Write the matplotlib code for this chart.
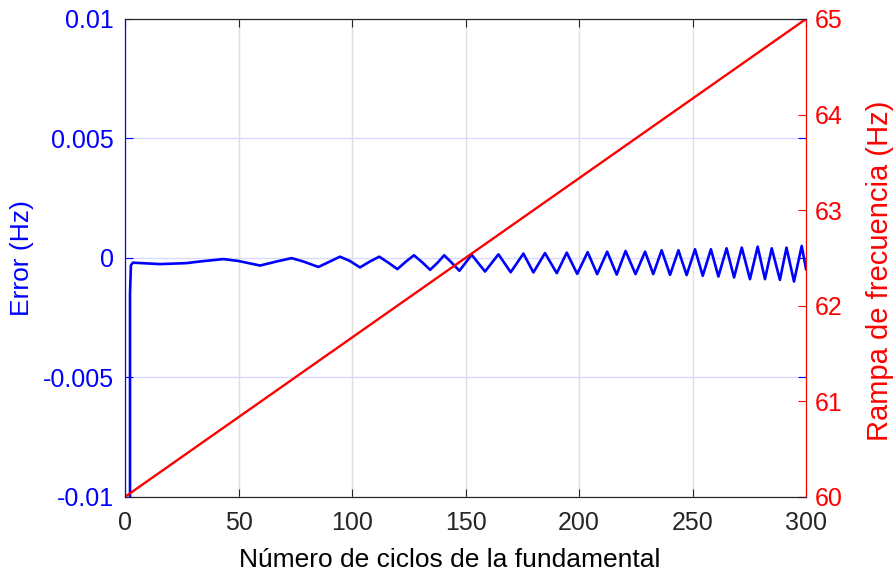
import matplotlib.pyplot as plt

plt.rcParams["font.family"] = ["Liberation Sans", "DejaVu Sans"]

# rampa de frecuencia aplicada (Hz)
ciclos_rampa = [0, 300]
rampa = [60, 65]

# error de estimacion de frecuencia (Hz), leido ciclo a ciclo
ciclos = [0, 2.2, 2.2, 2.6, 3.5, 15.4, 27, 33, 43.3, 50, 59.5, 66.8, 73.4,
          78.5, 85.2, 90.3, 94.7, 99.1, 103.5, 107.9, 112, 116, 120, 123.8,
          127.3, 131.1, 134.4, 137.7, 140.6, 143.9, 147.3,
          152.7, 158.6, 164.5, 169.9, 175.5, 179.9, 185, 190.2, 194.6, 199.2,
          203.8, 208, 212.4, 216.6, 220.5, 224.9,
          229.1, 232.7, 236.4, 240.1, 243.8, 247.4, 251.1, 254.5, 258.1, 261.4,
          265, 268.3, 271.7, 275.3, 278.7, 281.9, 284.9, 288.5, 291.4, 294.7,
          298.1, 300]
error = [-0.0105, -0.0105, -0.0015, -0.0003, -0.0002, -0.00026, -0.00022,
         -0.00015, -0.00005, -0.00013, -0.00032, -0.00015, -0.00001,
         -0.00015, -0.00038, -0.00015, 0.00005, -0.00013, -0.0004, -0.00015,
         0.00005, -0.0002, -0.00047, -0.00015, 0.00011, -0.0002, -0.0005,
         -0.0002, 0.00011, -0.0002, -0.00054,
         0.00013, -0.00057, 0.00015, -0.0006, 0.00018, -0.00061, 0.0002,
         -0.00064, 0.00022, -0.00067, 0.00024, -0.00068, 0.00026, -0.0007,
         0.00029, -0.00068,
         0.00026, -0.00068, 0.00032, -0.00071, 0.00032, -0.00072, 0.00036,
         -0.00075, 0.00036, -0.00078, 0.0004, -0.00082, 0.00043, -0.00089,
         0.00047, -0.00089, 0.0004, -0.00092, 0.00043, -0.00099, 0.0005,
         -0.00047]

x_ticks = [0, 50, 100, 150, 200, 250, 300]
err_ticks = [-0.01, -0.005, 0, 0.005, 0.01]
err_labels = ["-0.01", "-0.005", "0", "0.005", "0.01"]
rampa_ticks = [60, 61, 62, 63, 64, 65]

azul = "#0000ff"
rojo = "#ff0000"
gris = "#262626"

fig = plt.figure(figsize=(8.93, 5.75), dpi=100)
ax = fig.add_axes([0.140, 0.136, 0.7626, 0.831])
ax2 = ax.twinx()

ax.plot(ciclos, error, color=azul, linewidth=1.9, solid_joinstyle="round")
ax2.plot(ciclos_rampa, rampa, color=rojo, linewidth=1.7)

ax.set_xlim(0, 300)
ax.set_ylim(-0.01, 0.01)
ax2.set_ylim(60, 65)

ax.set_xticks(x_ticks)
ax.set_yticks(err_ticks)
ax.set_yticklabels(err_labels)
ax2.set_yticks(rampa_ticks)

# rejilla: vertical gris, horizontal azulada como el eje izquierdo
ax.xaxis.grid(True, color="#dedede", linewidth=1)
ax.yaxis.grid(True, color="#dadaff", linewidth=1)
ax.set_axisbelow(True)

ax.tick_params(axis="x", direction="in", length=6, colors=gris,
               labelsize=18, top=True, pad=10)
ax.tick_params(axis="y", direction="in", length=6, colors=azul,
               labelsize=18, right=True, pad=8)
ax2.tick_params(axis="y", direction="in", length=6, colors=rojo,
                labelsize=18, pad=6)

for a in (ax, ax2):
    a.spines["top"].set_color(gris)
    a.spines["bottom"].set_color(gris)
    a.spines["left"].set_color(azul)
    a.spines["right"].set_color(rojo)

ax.set_xlabel("Número de ciclos de la fundamental", fontsize=19,
              color="black")
ax.set_ylabel("Error (Hz)", fontsize=19, color=azul)
ax2.set_ylabel("Rampa de frecuencia (Hz)", fontsize=21, color=rojo)
ax.xaxis.set_label_coords(0.477, -0.107)
ax.yaxis.set_label_coords(-0.134, 0.50)
ax2.yaxis.set_label_coords(1.088, 0.473)

fig.savefig("out.png", dpi=100)
